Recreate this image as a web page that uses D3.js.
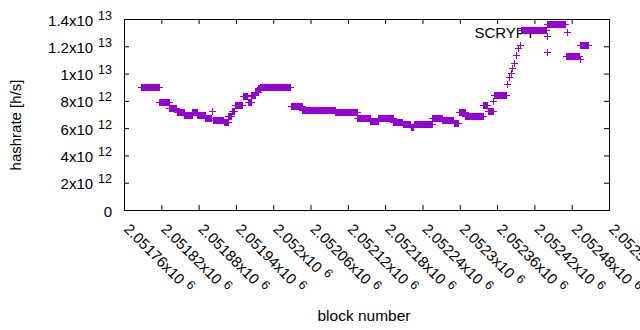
<!DOCTYPE html>
<html>
<head>
<meta http-equiv="Content-Type" content="text/html;charset=utf-8"/>
<script src="https://d3js.org/d3.v7.min.js"></script>
<style type="text/css">
body { margin: 0; background: #fff; }
text { font-family: "Liberation Sans", Arial, sans-serif; font-size: 15px; fill: #000; }
.border { fill: none; stroke: #000; stroke-width: 1; }
.tick line { stroke: #000; }
.pt { stroke: #9400d3; stroke-width: 1; fill: none; }
</style>
</head>
<body>
<script>
// Runs of blocks sharing one hashrate reading (start block, end block, hashrate)
var runStart = [2051787, 2051817, 2051833, 2051845, 2051857, 2051870, 2051878, 2051891, 2051902, 2051903,
                2051921, 2051928, 2051933, 2051938, 2051951, 2051959, 2051965, 2051971, 2051976, 2051979,
                2052028, 2052047, 2052100, 2052135, 2052156, 2052169, 2052193, 2052208, 2052221, 2052226,
                2052240, 2052256, 2052272, 2052290, 2052298, 2052309, 2052338, 2052345, 2052354, 2052355,
                2052376, 2052379, 2052382, 2052384, 2052387, 2052390, 2052394, 2052397, 2052398, 2052440,
                2052440, 2052441, 2052471, 2052493, 2052494];
var runEnd   = [2051816, 2051832, 2051844, 2051856, 2051869, 2051877, 2051890, 2051900, 2051902, 2051920,
                2051927, 2051932, 2051937, 2051950, 2051958, 2051964, 2051970, 2051975, 2051978, 2052027,
                2052046, 2052099, 2052134, 2052155, 2052168, 2052192, 2052207, 2052220, 2052225, 2052239,
                2052255, 2052271, 2052289, 2052297, 2052308, 2052337, 2052344, 2052353, 2052354, 2052375,
                2052376, 2052379, 2052382, 2052384, 2052387, 2052390, 2052394, 2052397, 2052439, 2052440,
                2052440, 2052469, 2052492, 2052493, 2052506];
var runHash  = [8.98e12, 7.89e12, 7.45e12, 7.18e12, 6.99e12, 7.18e12, 6.96e12, 6.72e12, 7.26e12, 6.60e12,
                6.45e12, 6.89e12, 7.26e12, 7.70e12, 8.36e12, 7.92e12, 8.43e12, 8.65e12, 8.94e12, 9.05e12,
                7.65e12, 7.30e12, 7.21e12, 6.74e12, 6.49e12, 6.74e12, 6.45e12, 6.27e12, 6.12e12, 6.34e12,
                6.28e12, 6.71e12, 6.63e12, 6.38e12, 7.15e12, 6.91e12, 7.70e12, 7.26e12, 7.99e12, 8.43e12,
                9.24e12, 9.75e12, 1.004e13, 1.041e13, 1.077e13, 1.136e13, 1.187e13, 1.209e13, 1.319e13, 1.278e13,
                1.158e13, 1.361e13, 1.129e13, 1.107e13, 1.209e13];

var xTickValues = [2051760, 2051820, 2051880, 2051940, 2052000, 2052060, 2052120,
                   2052180, 2052240, 2052300, 2052360, 2052420, 2052480, 2052540];
var xTickLabels = ["2.05176", "2.05182", "2.05188", "2.05194", "2.052", "2.05206", "2.05212",
                   "2.05218", "2.05224", "2.0523", "2.05236", "2.05242", "2.05248", "2.05254"];
var yTickValues = [0, 2e12, 4e12, 6e12, 8e12, 1e13, 1.2e13, 1.4e13];
var yTickMant   = ["0", "2", "4", "6", "8", "1", "1.2", "1.4"];
var yTickExp    = ["", "12", "12", "12", "12", "13", "13", "13"];

var width = 640, height = 330,
    plotLeft = 124, plotRight = 609, plotTop = 19, plotBottom = 210;

var x = d3.scaleLinear().domain([2051760, 2052540]).range([plotLeft, plotRight]);
var y = d3.scaleLinear().domain([0, 1.4e13]).range([plotBottom, plotTop]);

var svg = d3.select("body").append("svg")
    .attr("width", width)
    .attr("height", height);

// ticks on all four sides, pointing inward
svg.append("g").attr("transform", "translate(0," + plotBottom + ")")
   .call(d3.axisBottom(x).tickValues(xTickValues).tickSize(-5).tickFormat(""));
svg.append("g").attr("transform", "translate(0," + plotTop + ")")
   .call(d3.axisTop(x).tickValues(xTickValues).tickSize(-5).tickFormat(""));
svg.append("g").attr("transform", "translate(" + plotLeft + ",0)")
   .call(d3.axisLeft(y).tickValues(yTickValues).tickSize(-5).tickFormat(""));
svg.append("g").attr("transform", "translate(" + plotRight + ",0)")
   .call(d3.axisRight(y).tickValues(yTickValues).tickSize(-5).tickFormat(""));
svg.selectAll(".domain").remove();

svg.append("rect")
   .attr("class", "border")
   .attr("x", plotLeft + 0.5).attr("y", plotTop + 0.5)
   .attr("width", plotRight - plotLeft).attr("height", plotBottom - plotTop);

// y tick labels
var yl = svg.append("g").selectAll("text")
    .data(yTickValues)
    .enter().append("text")
    .attr("x", 112)
    .attr("y", function(d) { return y(d) + 6.5; })
    .attr("text-anchor", "end");
yl.append("tspan").text(function(d, i) { return yTickExp[i] ? yTickMant[i] + "x10" : yTickMant[i]; });
yl.append("tspan")
  .attr("dx", 5).attr("dy", -6)
  .style("font-size", "12.5px")
  .text(function(d, i) { return yTickExp[i]; });

// x tick labels, rotated
var xl = svg.append("g").selectAll("text")
    .data(xTickValues)
    .enter().append("text")
    .attr("transform", function(d) { return "translate(" + (x(d) - 1) + ",230) rotate(45)"; })
    .attr("text-anchor", "start");
xl.append("tspan").text(function(d, i) { return xTickLabels[i] + "x10"; });
xl.append("tspan")
  .attr("dx", 5).attr("dy", -5)
  .style("font-size", "12.5px")
  .text("6");

// axis titles
svg.append("text")
   .attr("x", 364).attr("y", 321)
   .attr("text-anchor", "middle")
   .style("font-size", "15.5px")
   .text("block number");
svg.append("text")
   .attr("transform", "translate(21,125) rotate(-90)")
   .attr("text-anchor", "middle")
   .text("hashrate [h/s]");

// key
svg.append("text")
   .attr("x", 535).attr("y", 37.5)
   .attr("text-anchor", "end")
   .text("SCRYPT");

function cross(sel) {
    sel.append("path")
       .attr("class", "pt")
       .attr("d", function(d) {
           var cx = Math.round(d.px) + 0.5, cy = Math.round(d.py) + 0.5;
           return "M" + (cx - 3.5) + "," + cy + "H" + (cx + 3.5) +
                  "M" + cx + "," + (cy - 3.5) + "V" + (cy + 3.5);
       });
}

svg.append("g").datum({px: 567, py: 32}).call(cross);

// expand runs into one point per block
var points = [];
for (var i = 0; i < runStart.length; i++) {
    for (var b = runStart[i]; b <= runEnd[i]; b++) {
        points.push({block: b, hash: runHash[i]});
    }
}

svg.append("g").selectAll("g")
   .data(points)
   .enter().append("g")
   .each(function(d) {
       d.px = x(d.block);
       d.py = y(d.hash);
       d3.select(this).call(cross);
   });
</script>
</body>
</html>
